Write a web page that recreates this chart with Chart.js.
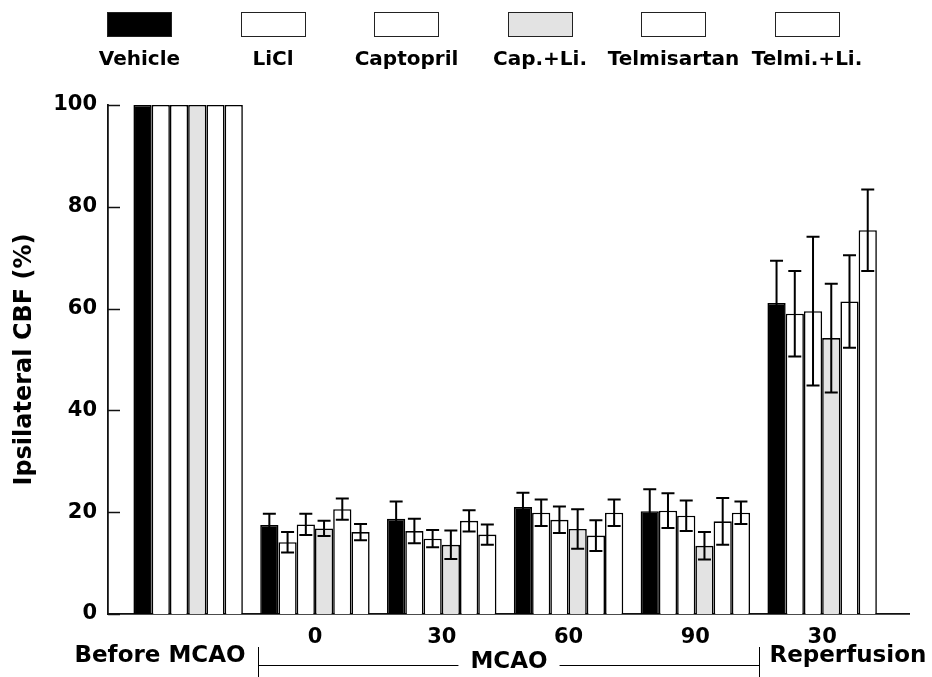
<!DOCTYPE html>
<html>
<head>
<meta charset="utf-8">
<title>Ipsilateral CBF</title>
<script src="https://cdn.jsdelivr.net/npm/chart.js@4.4.0/dist/chart.umd.min.js"></script>
<style>
  html, body { margin: 0; padding: 0; background: #fff; }
  #wrap { position: relative; width: 932px; height: 677px; }
  #legend { position: absolute; left: 0; top: 0; width: 932px; height: 80px;
            font-family: "DejaVu Sans", sans-serif; font-weight: bold; font-size: 20px; color: #000; }
  .item { position: absolute; top: 12px; width: 140px; text-align: center; }
  .box { width: 63px; height: 23px; border: 1px solid #222; margin: 0 auto; }
  .label { margin-top: 11px; line-height: 20px; white-space: nowrap; }
</style>
</head>
<body>
<div id="wrap">
  <canvas id="cbfChart" width="932" height="677"></canvas>
  <div id="legend"></div>
</div>
<script>
// Time points (x positions) and their tick labels
const groupPositions = [0, 1, 2, 3, 4, 5];
const groupLabels = ['', '0', '30', '60', '90', '30'];

// Series names and fills
const seriesNames = ['Vehicle', 'LiCl', 'Captopril', 'Cap.+Li.', 'Telmisartan', 'Telmi.+Li.'];
const seriesColors = ['#000000', '#ffffff', '#ffffff', '#e3e3e3', '#ffffff', '#ffffff'];

// Mean CBF (%) per time point
const vehicle     = [100, 17.5, 18.7, 21.0, 20.2, 61.1];
const lici        = [100, 14.1, 16.3, 19.9, 20.3, 59.0];
const captopril   = [100, 17.6, 14.8, 18.5, 19.3, 59.5];
const capLi       = [100, 16.8, 13.6, 16.7, 13.4, 54.2];
const telmisartan = [100, 20.6, 18.3, 15.4, 18.2, 61.4];
const telmiLi     = [100, 16.1, 15.6, 19.9, 19.9, 75.4];

// Error (SEM) per time point
const vehicleErr     = [0, 2.2, 3.4, 2.8, 4.3, 8.3];
const liciErr        = [0, 2.0, 2.4, 2.6, 3.4, 8.4];
const captoprilErr   = [0, 2.1, 1.7, 2.6, 3.0, 14.6];
const capLiErr       = [0, 1.5, 2.8, 3.9, 2.7, 10.7];
const telmisartanErr = [0, 2.1, 2.1, 3.0, 4.6, 9.1];
const telmiLiErr     = [0, 1.6, 2.0, 2.6, 2.2, 8.0];

const seriesValues = [vehicle, lici, captopril, capLi, telmisartan, telmiLi];
const seriesErrors = [vehicleErr, liciErr, captoprilErr, capLiErr, telmisartanErr, telmiLiErr];

const yTicks = [0, 20, 40, 60, 80, 100];

const FONT = '"DejaVu Sans", sans-serif';

function buildLegend() {
    const legend = document.getElementById('legend');
    legend.innerHTML = seriesNames.map((name, i) => `
        <div class="item" style="left:${139.5 + 133.5 * i - 70}px">
            <div class="box" style="background:${seriesColors[i]}"></div>
            <div class="label">${name}</div>
        </div>
    `).join('');
}

// Draw mean +/- error whiskers on top of the bars
const errorBars = {
    id: 'errorBars',
    afterDatasetsDraw(chart) {
        const ctx = chart.ctx;
        const yScale = chart.scales.y;
        ctx.save();
        ctx.strokeStyle = '#000';
        ctx.lineWidth = 2;
        chart.data.datasets.forEach((ds, di) => {
            const meta = chart.getDatasetMeta(di);
            meta.data.forEach((bar, i) => {
                const err = ds.errors[i];
                if (!err) return;
                const v = ds.data[i].y;
                const top = yScale.getPixelForValue(v + err);
                const bot = yScale.getPixelForValue(v - err);
                const x = bar.x;
                ctx.beginPath();
                ctx.moveTo(x, top); ctx.lineTo(x, bot);
                ctx.moveTo(x - 6.5, top); ctx.lineTo(x + 6.5, top);
                ctx.moveTo(x - 6.5, bot); ctx.lineTo(x + 6.5, bot);
                ctx.stroke();
            });
        });
        ctx.restore();
    }
};

// Inward y ticks and the phase row under the x axis
const axisExtras = {
    id: 'axisExtras',
    afterDraw(chart) {
        const ctx = chart.ctx;
        const xScale = chart.scales.x;
        const yScale = chart.scales.y;
        const left = chart.chartArea.left;
        ctx.save();
        ctx.strokeStyle = '#111';
        ctx.lineWidth = 1.5;
        yScale.ticks.forEach(t => {
            const yp = Math.round(yScale.getPixelForValue(t.value)) + 0.5;
            ctx.beginPath();
            ctx.moveTo(left, yp);
            ctx.lineTo(left + 12, yp);
            ctx.stroke();
        });

        const sepL = Math.round(xScale.getPixelForValue(0.55)) + 0.5;
        const sepR = Math.round(xScale.getPixelForValue(4.5)) + 0.5;
        const mid = (sepL + sepR) / 2;
        ctx.fillStyle = '#000';
        ctx.font = 'bold 23px ' + FONT;
        ctx.textBaseline = 'alphabetic';

        ctx.textAlign = 'right';
        ctx.fillText('Before MCAO', sepL - 13, 662);
        ctx.textAlign = 'left';
        ctx.fillText('Reperfusion', sepR + 10, 662);
        ctx.textAlign = 'center';
        ctx.fillText('MCAO', mid, 668);
        const half = ctx.measureText('MCAO').width / 2;

        ctx.strokeStyle = '#000';
        ctx.lineWidth = 1;
        ctx.beginPath();
        ctx.moveTo(sepL, 647); ctx.lineTo(sepL, 677);
        ctx.moveTo(sepR, 647); ctx.lineTo(sepR, 677);
        ctx.moveTo(sepL, 665.5); ctx.lineTo(mid - half - 12, 665.5);
        ctx.moveTo(mid + half + 12, 665.5); ctx.lineTo(sepR, 665.5);
        ctx.stroke();
        ctx.restore();
    }
};

function createChart() {
    const datasets = seriesNames.map((name, i) => ({
        label: name,
        data: groupPositions.map((x, j) => ({ x: x, y: seriesValues[i][j] })),
        errors: seriesErrors[i],
        backgroundColor: seriesColors[i],
        borderColor: '#000',
        borderWidth: 1.6,
        categoryPercentage: 0.863,
        barPercentage: 1.0
    }));

    return new Chart(document.getElementById('cbfChart'), {
        type: 'bar',
        data: { datasets: datasets },
        plugins: [errorBars, axisExtras],
        options: {
            responsive: false,
            animation: false,
            layout: { padding: { top: 105, right: 23, bottom: 0, left: 0 } },
            plugins: {
                legend: { display: false },
                tooltip: { enabled: false }
            },
            scales: {
                x: {
                    type: 'linear',
                    offset: false,
                    min: -0.632,
                    max: 5.685,
                    afterBuildTicks: (scale) => {
                        scale.ticks = groupPositions.map(v => ({ value: v }));
                    },
                    afterFit: (scale) => { scale.height = 63; },
                    grid: { display: false, drawTicks: false },
                    border: { display: true, color: '#111', width: 1.8 },
                    ticks: {
                        padding: 11,
                        maxRotation: 0,
                        autoSkip: false,
                        color: '#000',
                        font: { family: FONT, size: 21, weight: 'bold' },
                        callback: (value, index) => groupLabels[index]
                    }
                },
                y: {
                    min: 0,
                    max: 100,
                    afterBuildTicks: (scale) => {
                        scale.ticks = yTicks.map(v => ({ value: v }));
                    },
                    afterFit: (scale) => { scale.width = 108; },
                    grid: { display: false, drawTicks: false },
                    border: { display: true, color: '#111', width: 1.8 },
                    ticks: {
                        padding: 11,
                        color: '#000',
                        font: { family: FONT, size: 21, weight: 'bold' }
                    },
                    title: {
                        display: true,
                        text: 'Ipsilateral CBF (%)',
                        color: '#000',
                        padding: { top: 10, bottom: 0 },
                        font: { family: FONT, size: 24, weight: 'bold' }
                    }
                }
            }
        }
    });
}

buildLegend();
createChart();
</script>
</body>
</html>
